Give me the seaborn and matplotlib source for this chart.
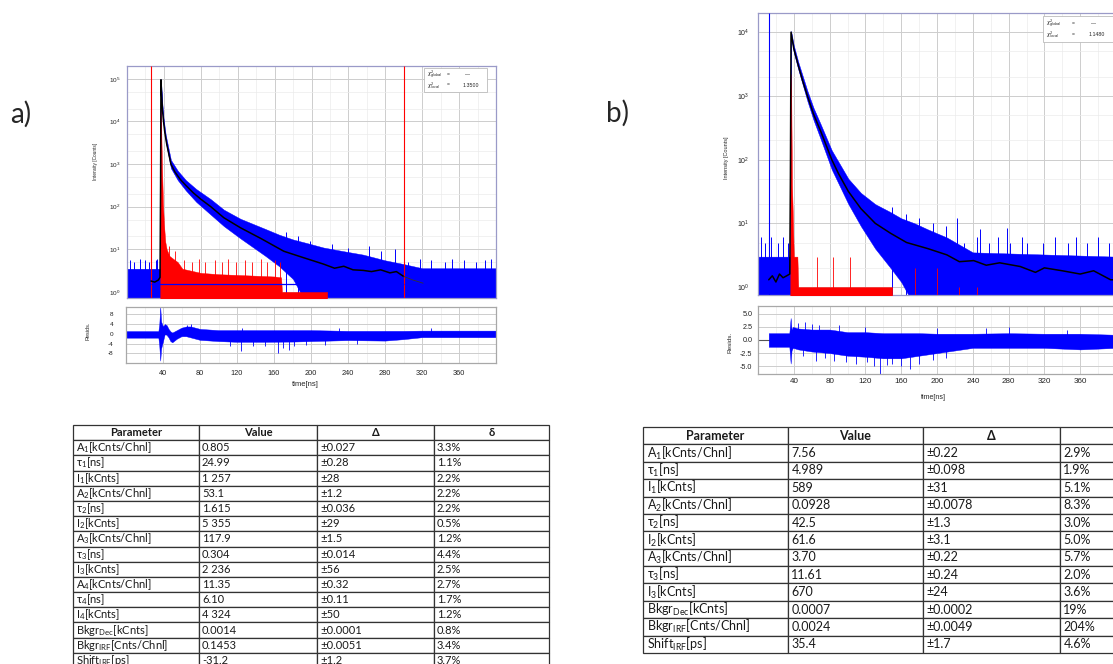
import matplotlib
matplotlib.use("Agg")
import matplotlib.pyplot as plt
import seaborn as sns
import pandas as pd
from matplotlib.ticker import LogLocator, MultipleLocator, FixedLocator, NullFormatter, FixedFormatter
from matplotlib.patches import Rectangle

# ------------------------------------------------------------------ data
# panel a) decay: fit curve (counts)
fit_a_t = [26, 30, 34, 35.8, 36.4, 36.8, 37.6, 38.5, 39.6, 41, 43, 47.6, 52, 58, 63.8, 72, 80, 90.8,
           105, 123, 145, 170, 190, 213, 225, 235, 245, 256, 265, 275, 285, 292, 300]
fit_a_v = [1.8, 1.7, 1.9, 2.2, 300, 95000, 40000, 18000, 10000, 5500, 3000, 1000, 650, 430, 316, 210,
           150, 100, 55, 32, 18, 9, 6.5, 4.5, 3.6, 4.0, 3.3, 3.2, 3.0, 3.3, 2.8, 3.0, 2.3]
fit_a_ext_t = [300, 310, 321]
fit_a_ext_v = [2.3, 1.9, 1.6]
# panel a) measured decay envelope
band_a_t = [0, 36.0, 36.5, 36.8, 38, 39.6, 42, 47.6, 55, 63.8, 75, 90.8, 105, 123, 150, 165, 180,
            195, 213, 235, 256, 280, 300, 320, 400]
band_a_hi = [3.5, 3.5, 2000, 100000, 32000, 12000, 4800, 1250, 700, 420, 260, 150, 85, 52, 30, 22, 17,
             14, 11, 9, 7.5, 5.5, 4.5, 3.6, 3.6]
band_a_lo = [0.5, 0.5, 0.5, 85000, 22000, 8500, 3300, 800, 420, 240, 130, 65, 35, 18, 7, 4, 2,
             0.5, 0.5, 0.5, 0.5, 0.5, 0.5, 0.5, 0.5]
spk_a_t = [3, 8, 14, 20, 24, 31, 33, 172, 185, 198, 205, 222, 240, 262, 275, 290, 305, 318, 330, 345,
           352, 365, 378, 388, 395]
spk_a_v = [5.5, 5, 6, 5.5, 5, 5.5, 6, 25, 20, 16, 12, 13, 11, 12, 9, 10, 5, 6, 5.5, 5, 6, 5.5, 5, 5.5, 6]
# panel a) IRF
irf_a_t = [36.0, 36.6, 37.2, 38, 39, 40, 41.5, 43, 46, 50, 55, 60, 80, 100, 120, 140, 160, 167, 168, 217]
irf_a_hi = [0.5, 20000, 5000, 800, 120, 40, 15, 10, 7, 6, 5, 3.5, 2.8, 2.6, 2.5, 2.4, 2.3, 2.2, 1.0, 1.0]
irf_spk_a_t = [45, 52, 62, 70, 78, 85, 95, 103, 110, 118, 128, 135, 145, 152, 160, 166]
irf_spk_a_v = [12, 9, 5.5, 5, 6, 5, 5.5, 5, 6, 5, 5.5, 5, 6, 5, 5.5, 5]
marker_a = [26, 300]
bkgr_a = 1.5

# panel b) decay
fit_b_t = [12, 16, 20, 24, 28, 32, 35.5, 36.2, 36.9, 40, 45, 50, 55.2, 62, 70, 82.4, 90, 101, 115, 131,
           148, 166, 190, 211, 225, 241, 255, 270, 293, 310, 320, 340, 360, 375, 394, 400]
fit_b_v = [1.3, 1.5, 1.2, 1.6, 1.4, 1.5, 1.6, 50, 10000, 5500, 3000, 1700, 1000, 520, 280, 100, 60,
           31.6, 17, 10, 7, 5, 4, 3.2, 2.5, 2.6, 2.2, 2.4, 2.1, 1.7, 2.0, 1.8, 1.6, 1.8, 1.3, 1.3]
band_b_t = [0, 35.8, 36.4, 36.9, 40, 45, 55.2, 62, 70, 82.4, 101, 115, 131, 148, 160, 175, 190, 211,
            240, 400]
band_b_hi = [3, 3, 500, 10500, 6200, 3400, 1200, 650, 360, 140, 50, 30, 20, 15, 12, 10, 8, 6, 3.5, 3]
band_b_lo = [0.5, 0.5, 0.5, 9000, 4800, 2600, 830, 420, 210, 70, 20, 9, 4, 2, 1.2, 0.5, 0.5, 0.5, 0.5, 0.5]
spk_b_t = [3, 8, 15, 22, 28, 33, 150, 165, 180, 195, 210, 222, 230, 245, 248, 258, 268, 278, 282,
           295, 300, 318, 332, 346, 355, 368, 380, 392]
spk_b_v = [6, 5, 6, 5, 6, 5, 18, 14, 12, 10, 9, 12, 5, 6, 8, 5, 6, 8.5, 5, 6, 5, 5, 6, 5, 6, 5, 6, 5]
irf_b_t = [36.0, 36.6, 37.2, 38, 39, 40, 44, 45, 150]
irf_b_hi = [0.5, 2200, 800, 40, 12, 3, 3, 1.0, 1.0]
irf_spk_b_t = [66, 84, 103, 175, 200, 225, 245]
irf_spk_b_v = [3, 3, 3, 2, 2, 1, 1]
marker_b = [12]

# residuals a)
res_a_t = [0, 35, 36, 37, 38, 40, 42, 44, 46, 48, 50, 55, 60, 65, 70, 80, 100, 120, 150, 180, 200,
           240, 280, 300, 320, 360, 400]
res_a_hi = [1.1, 1.1, 4, 11, 5, 3, 4, 3.5, 2, 1, 0.5, 1.5, 2.5, 3, 3, 2, 1.5, 1.5, 1.5, 1.5, 1.5,
            1.2, 1.2, 1.2, 1.3, 1.3, 1.3]
res_a_lo = [-1.6, -1.6, -5, -11, -6, -3, 0, -0.5, -1.5, -3, -3.5, -2, -1, -1, -1.5, -2.5, -3, -3.3,
            -3.3, -3.2, -3, -2.6, -2.8, -2.2, -1.4, -1.4, -1.4]
res_spk_a_t = [66, 70, 125, 230, 330, 112, 124, 137, 150, 164, 170, 176, 182, 195, 215, 250]
res_spk_a_v = [3.5, 4, 2.5, 2.2, 2.2, -5, -7, -5, -5, -8, -6, -6.5, -5, -4.5, -4.5, -4]

# residuals b)
res_b_t = [12, 35, 36.5, 37.5, 39, 45, 60, 80, 100, 120, 140, 160, 180, 200, 220, 240, 280, 320, 360, 400]
res_b_hi = [1.3, 1.3, 4.2, 2, 2.5, 2.2, 2, 2, 1.5, 1.5, 1.3, 1.3, 1.3, 1.2, 1.2, 1.2, 1.3, 1.2, 1.2, 1.0]
res_b_lo = [-1.3, -1.3, -4.5, -2, -1.5, -1.8, -2.2, -2.5, -3, -3.2, -3.5, -3.5, -3, -2.5, -2, -1.5,
            -1.5, -1.5, -1.8, -1.5]
res_spk_b_t = [45, 52, 60, 68, 90, 120, 200, 255, 280, 345, 50, 65, 75, 85, 98, 110, 122, 130, 136,
               144, 150, 160, 170, 180, 195, 210]
res_spk_b_v = [3.3, 3.5, 3, 2.8, 2.8, 2.5, 2.2, 2.2, 2.4, 2.0, -3, -4, -3.5, -4, -4.2, -4.5, -4.2,
               -5, -6.5, -4.8, -4.5, -5, -5.5, -4.5, -3.8, -3.5]

x_ticks = [40, 80, 120, 160, 200, 240, 280, 320, 360]
res_a_ticks = [8, 4, 0, -4, -8]
res_b_ticks = [5.0, 2.5, 0.0, -2.5, -5.0]
chi_a = "1.3500"
chi_b = "1.1480"

# tables
table_cols = ["Parameter", "Value", "Δ", "δ"]
par_a = ["A$\\mathregular{_1}$[kCnts/Chnl]", "τ$\\mathregular{_1}$[ns]", "I$\\mathregular{_1}$[kCnts]",
         "A$\\mathregular{_2}$[kCnts/Chnl]", "τ$\\mathregular{_2}$[ns]", "I$\\mathregular{_2}$[kCnts]",
         "A$\\mathregular{_3}$[kCnts/Chnl]", "τ$\\mathregular{_3}$[ns]", "I$\\mathregular{_3}$[kCnts]",
         "A$\\mathregular{_4}$[kCnts/Chnl]", "τ$\\mathregular{_4}$[ns]", "I$\\mathregular{_4}$[kCnts]",
         "Bkgr$\\mathregular{_{Dec}}$[kCnts]", "Bkgr$\\mathregular{_{IRF}}$[Cnts/Chnl]",
         "Shift$\\mathregular{_{IRF}}$[ps]"]
val_a = ["0.805", "24.99", "1 257", "53.1", "1.615", "5 355", "117.9", "0.304", "2 236", "11.35",
         "6.10", "4 324", "0.0014", "0.1453", "-31.2"]
dlt_a = ["±0.027", "±0.28", "±28", "±1.2", "±0.036", "±29", "±1.5", "±0.014", "±56", "±0.32",
         "±0.11", "±50", "±0.0001", "±0.0051", "±1.2"]
rel_a = ["3.3%", "1.1%", "2.2%", "2.2%", "2.2%", "0.5%", "1.2%", "4.4%", "2.5%", "2.7%", "1.7%",
         "1.2%", "0.8%", "3.4%", "3.7%"]
par_b = ["A$\\mathregular{_1}$[kCnts/Chnl]", "τ$\\mathregular{_1}$[ns]", "I$\\mathregular{_1}$[kCnts]",
         "A$\\mathregular{_2}$[kCnts/Chnl]", "τ$\\mathregular{_2}$[ns]", "I$\\mathregular{_2}$[kCnts]",
         "A$\\mathregular{_3}$[kCnts/Chnl]", "τ$\\mathregular{_3}$[ns]", "I$\\mathregular{_3}$[kCnts]",
         "Bkgr$\\mathregular{_{Dec}}$[kCnts]", "Bkgr$\\mathregular{_{IRF}}$[Cnts/Chnl]",
         "Shift$\\mathregular{_{IRF}}$[ps]"]
val_b = ["7.56", "4.989", "589", "0.0928", "42.5", "61.6", "3.70", "11.61", "670", "0.0007", "0.0024", "35.4"]
dlt_b = ["±0.22", "±0.098", "±31", "±0.0078", "±1.3", "±3.1", "±0.22", "±0.24", "±24", "±0.0002",
         "±0.0049", "±1.7"]
rel_b = ["2.9%", "1.9%", "5.1%", "8.3%", "3.0%", "5.0%", "5.7%", "2.0%", "3.6%", "19%", "204%", "4.6%"]

# ------------------------------------------------------------------ style
sns.set_style("white")
plt.rcParams["font.family"] = ["Liberation Sans", "DejaVu Sans"]
plt.rcParams["mathtext.fontset"] = "dejavusans"
TABFONT = ["Lato", "DejaVu Sans"]
BLUE, RED = "#0000ff", "#ff0000"

W, H = 1113, 664
fig = plt.figure(figsize=(W / 100, H / 100), dpi=100)


def ax_px(l, t, r, b):
    return fig.add_axes([l / W, 1 - b / H, (r - l) / W, (b - t) / H])


def style_common(ax, spine):
    ax.set_xlim(0, 400)
    ax.xaxis.set_major_locator(FixedLocator(x_ticks))
    ax.xaxis.set_minor_locator(MultipleLocator(20))
    ax.grid(which="major", color="#cdcdcd", lw=0.7)
    ax.grid(which="minor", color="#ebebeb", lw=0.5)
    ax.set_axisbelow(True)
    for s in ax.spines.values():
        s.set_color(spine)
        s.set_linewidth(0.9)


def decay_panel(ax, ylim, band_t, lo, hi, spk_t, spk_v, irf_t, irf_hi, irf_st, irf_sv,
                fit_t, fit_v, ytick_fs, ypad):
    ax.set_yscale("log")
    style_common(ax, "#9a9ac8")
    ax.set_ylim(*ylim)
    ax.yaxis.set_major_locator(LogLocator(base=10, numticks=10))
    ax.yaxis.set_minor_locator(LogLocator(base=10, subs=[2, 5], numticks=10))
    ax.yaxis.set_minor_formatter(NullFormatter())
    ax.tick_params(which="both", length=0, labelbottom=False)
    ax.tick_params(axis="y", labelsize=ytick_fs, pad=ypad, colors="#222222")
    ax.fill_between(band_t, lo, hi, color=BLUE, lw=0.3, zorder=2)
    ax.vlines(spk_t, 0.5, spk_v, color=BLUE, lw=0.7, zorder=2)
    ax.fill_between(irf_t, 0.5, irf_hi, color=RED, lw=0.3, zorder=3)
    ax.vlines(irf_st, 0.5, irf_sv, color=RED, lw=0.6, zorder=3)
    df = pd.DataFrame({"t": fit_t, "v": fit_v})
    sns.lineplot(data=df, x="t", y="v", ax=ax, color="black", lw=1.1, estimator=None, zorder=5)
    ax.set_xlabel("")
    ax.set_ylabel("Intensity [Counts]")


def resid_panel(ax, ylim, t, lo, hi, st, sv, ticks, fmt, fs, ypad, xfs, xpad):
    style_common(ax, "#a8a8a8")
    ax.set_ylim(*ylim)
    ax.yaxis.set_major_locator(FixedLocator(ticks))
    ax.yaxis.set_major_formatter(FixedFormatter([fmt.format(v) for v in ticks]))
    ax.tick_params(which="both", length=0)
    ax.tick_params(axis="y", labelsize=fs, pad=ypad, colors="#222222")
    ax.tick_params(axis="x", labelsize=xfs, pad=xpad, colors="#222222")
    ax.axhline(0, color="#555555", lw=0.8, zorder=1)
    ax.fill_between(t, lo, hi, color=BLUE, lw=0.3, zorder=2)
    ax.vlines(st, 0, sv, color=BLUE, lw=0.6, zorder=2)
    ax.set_xlabel("time[ns]")
    ax.set_ylabel("Resids.")


# ---- panel a
axa = ax_px(127, 66, 496, 298)
decay_panel(axa, (0.72, 2.0e5), band_a_t, band_a_lo, band_a_hi, spk_a_t, spk_a_v,
            irf_a_t, irf_a_hi, irf_spk_a_t, irf_spk_a_v, fit_a_t, fit_a_v, 4.6, 5)
sns.lineplot(x=fit_a_ext_t, y=fit_a_ext_v, ax=axa, color="#333333", lw=0.6, estimator=None, zorder=5)
axa.vlines(marker_a, 0.72, 2.0e5, color=RED, lw=0.8, zorder=4)
axa.hlines(bkgr_a, marker_a[0], marker_a[1], color=BLUE, lw=0.9, zorder=4)
axa.yaxis.label.set_size(3.4)
axa.yaxis.set_label_coords(-0.079, 0.59)

rxa = ax_px(126, 307, 496, 363)
resid_panel(rxa, (-12, 11), res_a_t, res_a_lo, res_a_hi, res_spk_a_t, res_spk_a_v,
            res_a_ticks, "{:g}", 4.6, 9, 5.3, 5)
rxa.xaxis.label.set_size(5.5)
rxa.xaxis.set_label_coords(0.484, -0.33)
rxa.yaxis.label.set_size(4.0)
rxa.yaxis.set_label_coords(-0.097, 0.58)

# ---- panel b
axb = ax_px(758, 13, 1116, 295)
decay_panel(axb, (0.75, 2.0e4), band_b_t, band_b_lo, band_b_hi, spk_b_t, spk_b_v,
            irf_b_t, irf_b_hi, irf_spk_b_t, irf_spk_b_v, fit_b_t, fit_b_v, 5.0, 6)
axb.vlines(marker_b, 0.75, 2.0e4, color=BLUE, lw=0.8, zorder=4)
axb.yaxis.label.set_size(4.0)
axb.yaxis.set_label_coords(-0.081, 0.486)

rxb = ax_px(758, 306, 1116, 374)
resid_panel(rxb, (-6.5, 6.5), res_b_t, res_b_lo, res_b_hi, res_spk_b_t, res_spk_b_v,
            res_b_ticks, "{:.1f}", 5.2, 4, 5.8, 3)
rxb.xaxis.label.set_size(5.0)
rxb.xaxis.set_label_coords(0.49, -0.3)
rxb.yaxis.label.set_size(4.6)
rxb.yaxis.set_label_coords(-0.07, 0.46)

# ---- overlay (pixel coordinates) for labels, chi boxes and tables
ov = fig.add_axes([0, 0, 1, 1])
ov.set_xlim(0, W)
ov.set_ylim(H, 0)
ov.axis("off")

ov.text(10, 114, "a)", fontsize=20, family=TABFONT, va="center", ha="left")
ov.text(606, 113, "b)", fontsize=20, family=TABFONT, va="center", ha="left")

for (x0, y0, x1, y1, xs, xe, xv, chi) in [(424, 68, 487, 92, 427, 447, 463, chi_a),
                                           (1043, 16, 1118, 42, 1046, 1072, 1089, chi_b)]:
    ov.add_patch(Rectangle((x0, y0), x1 - x0, y1 - y0, facecolor="white", edgecolor="#bbbbbb", lw=0.6, zorder=6))
    l1 = y0 + (y1 - y0) * 0.3
    l2 = y0 + (y1 - y0) * 0.72
    ov.text(xs, l1, r"$\chi^2_{global}$", fontsize=3.6, va="center", zorder=7)
    ov.text(xs, l2, r"$\chi^2_{local}$", fontsize=3.6, va="center", zorder=7)
    ov.text(xe, l1, "=", fontsize=3.6, va="center", zorder=7)
    ov.text(xe, l2, "=", fontsize=3.6, va="center", zorder=7)
    ov.text(xv + 2, l1, "—", fontsize=3.6, va="center", zorder=7)
    ov.text(xv, l2, chi, fontsize=3.8, va="center", zorder=7)


def make_table(par, val, dlt, rel, bbox_px, widths, fs):
    rows = [list(r) for r in zip(par, val, dlt, rel)]
    x0, y0, x1, y1 = bbox_px
    tab = ov.table(cellText=rows, colLabels=table_cols, cellLoc="left", colLoc="center",
                   colWidths=widths,
                   bbox=[x0 / W, 1 - y1 / H, (x1 - x0) / W, (y1 - y0) / H])
    tab.auto_set_font_size(False)
    for (r, c), cell in tab.get_celld().items():
        cell.set_fontsize(fs)
        cell.PAD = 0.025
        cell.set_linewidth(0.9)
        cell.set_edgecolor("#333333")
        txt = cell.get_text()
        txt.set_fontfamily(TABFONT)
        txt.set_color("#1a1a1a")
        if r == 0:
            txt.set_fontweight("bold")
    return tab


make_table(par_a, val_a, dlt_a, rel_a, (73, 425, 549, 668), [126, 118, 117, 115], 8)
make_table(par_b, val_b, dlt_b, rel_b, (643, 427, 1197, 653), [145, 135, 137, 137], 9)

fig.savefig("out.png", dpi=100)
